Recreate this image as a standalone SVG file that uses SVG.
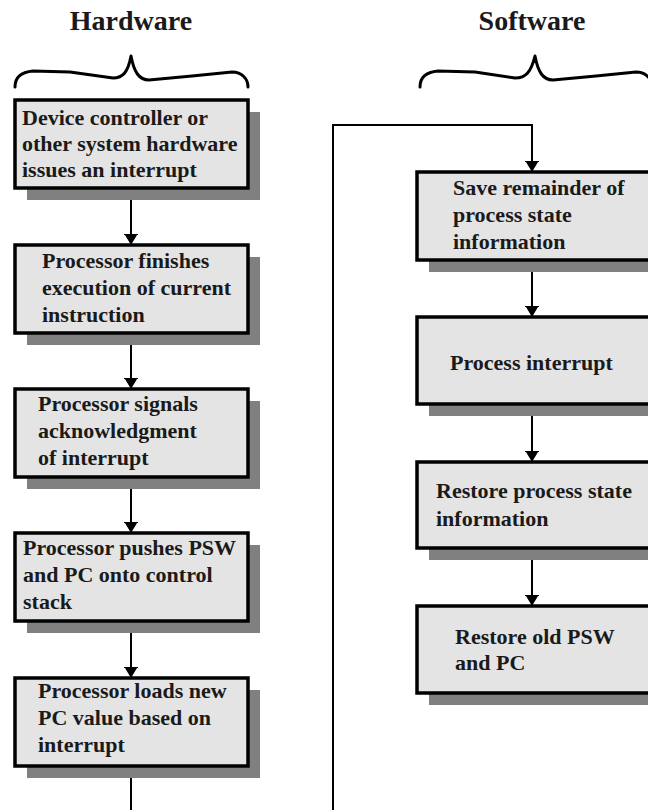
<svg xmlns="http://www.w3.org/2000/svg" width="648" height="810" viewBox="0 0 648 810">
  <defs>
    <marker id="arrow" markerWidth="12" markerHeight="14" viewBox="0 0 12 14" refX="11" refY="7" orient="auto" markerUnits="userSpaceOnUse">
      <path d="M0,0 L1,0 L1,1 L11,7 L1,13 L1,14 L0,14 Z" fill="#000"/>
    </marker>
    <style>
      .title { font-family: "Liberation Serif", "Times New Roman", serif; font-weight: bold; font-size: 28px; fill: #1a1a1a; text-anchor: middle; }
      .label { font-family: "Liberation Serif", "Times New Roman", serif; font-weight: bold; font-size: 22px; fill: #1a1a1a; }
      .box { fill: #e4e4e4; stroke: #000; stroke-width: 3.5; }
      .shadow { fill: #808080; }
      .brace { fill: none; stroke: #000; stroke-width: 3; stroke-linejoin: round; stroke-linecap: round; }
      .conn { fill: none; stroke: #000; stroke-width: 2; }
    </style>
  </defs>

  <rect width="648" height="810" fill="#fff"/>

  <!-- column headings -->
  <g id="heading-hardware">
    <text class="title" x="131" y="30">Hardware</text>
    <path class="brace" d="M15,87 C15,77 21,72 33,71 L70,72 L113,78 C123,78 128,72 131,56 C134,72 139,80 149,80 L192,76 L232,72 C242,72 248,79 248,87"/>
  </g>
  <g id="heading-software">
    <text class="title" x="532" y="30">Software</text>
    <path class="brace" d="M420,87 C420,77 426,72 438,71 L475,72 L515,78 C526,78 531,72 535,56 C538,72 543,80 553,80 L596,76 L636,72 C646,72 652,79 652,87"/>
  </g>

  <!-- connectors -->
  <g id="connectors">
    <line class="conn" x1="131" y1="188" x2="131" y2="245" marker-end="url(#arrow)"/>
    <line class="conn" x1="131" y1="333" x2="131" y2="389" marker-end="url(#arrow)"/>
    <line class="conn" x1="131" y1="477" x2="131" y2="533" marker-end="url(#arrow)"/>
    <line class="conn" x1="131" y1="621" x2="131" y2="678" marker-end="url(#arrow)"/>
    <path class="conn" d="M131,766 L131,830 L333,830 L333,125 L532,125 L532,172" marker-end="url(#arrow)"/>
    <line class="conn" x1="532" y1="260" x2="532" y2="317" marker-end="url(#arrow)"/>
    <line class="conn" x1="532" y1="404" x2="532" y2="462" marker-end="url(#arrow)"/>
    <line class="conn" x1="532" y1="548" x2="532" y2="606" marker-end="url(#arrow)"/>
  </g>

  <!-- hardware steps -->
  <g id="hw-interrupt">
    <rect class="shadow" x="27" y="112" width="233" height="88"/>
    <rect class="box" x="15" y="100" width="233" height="88"/>
    <text class="label" x="22" y="125">Device controller or</text>
    <text class="label" x="22" y="151">other system hardware</text>
    <text class="label" x="22" y="177">issues an interrupt</text>
  </g>
  <g id="hw-finish">
    <rect class="shadow" x="27" y="257" width="233" height="88"/>
    <rect class="box" x="15" y="245" width="233" height="88"/>
    <text class="label" x="42" y="268">Processor finishes</text>
    <text class="label" x="42" y="295">execution of current</text>
    <text class="label" x="42" y="322">instruction</text>
  </g>
  <g id="hw-ack">
    <rect class="shadow" x="27" y="401" width="233" height="88"/>
    <rect class="box" x="15" y="389" width="233" height="88"/>
    <text class="label" x="38" y="411">Processor signals</text>
    <text class="label" x="38" y="438">acknowledgment</text>
    <text class="label" x="38" y="465">of interrupt</text>
  </g>
  <g id="hw-push">
    <rect class="shadow" x="27" y="545" width="233" height="88"/>
    <rect class="box" x="15" y="533" width="233" height="88"/>
    <text class="label" x="23" y="555">Processor pushes PSW</text>
    <text class="label" x="23" y="582">and PC onto control</text>
    <text class="label" x="23" y="609">stack</text>
  </g>
  <g id="hw-load">
    <rect class="shadow" x="27" y="690" width="233" height="88"/>
    <rect class="box" x="15" y="678" width="233" height="88"/>
    <text class="label" x="38" y="698">Processor loads new</text>
    <text class="label" x="38" y="725">PC value based on</text>
    <text class="label" x="38" y="752">interrupt</text>
  </g>

  <!-- software steps -->
  <g id="sw-save">
    <rect class="shadow" x="429" y="184" width="240" height="88"/>
    <rect class="box" x="417" y="172" width="240" height="88"/>
    <text class="label" x="453" y="195">Save remainder of</text>
    <text class="label" x="453" y="222">process state</text>
    <text class="label" x="453" y="249">information</text>
  </g>
  <g id="sw-process">
    <rect class="shadow" x="429" y="329" width="240" height="87"/>
    <rect class="box" x="417" y="317" width="240" height="87"/>
    <text class="label" x="450" y="370">Process interrupt</text>
  </g>
  <g id="sw-restore-state">
    <rect class="shadow" x="429" y="474" width="240" height="86"/>
    <rect class="box" x="417" y="462" width="240" height="86"/>
    <text class="label" x="436" y="498">Restore process state</text>
    <text class="label" x="436" y="526">information</text>
  </g>
  <g id="sw-restore-psw">
    <rect class="shadow" x="429" y="618" width="240" height="87"/>
    <rect class="box" x="417" y="606" width="240" height="87"/>
    <text class="label" x="455" y="644">Restore old PSW</text>
    <text class="label" x="455" y="670">and PC</text>
  </g>
</svg>
